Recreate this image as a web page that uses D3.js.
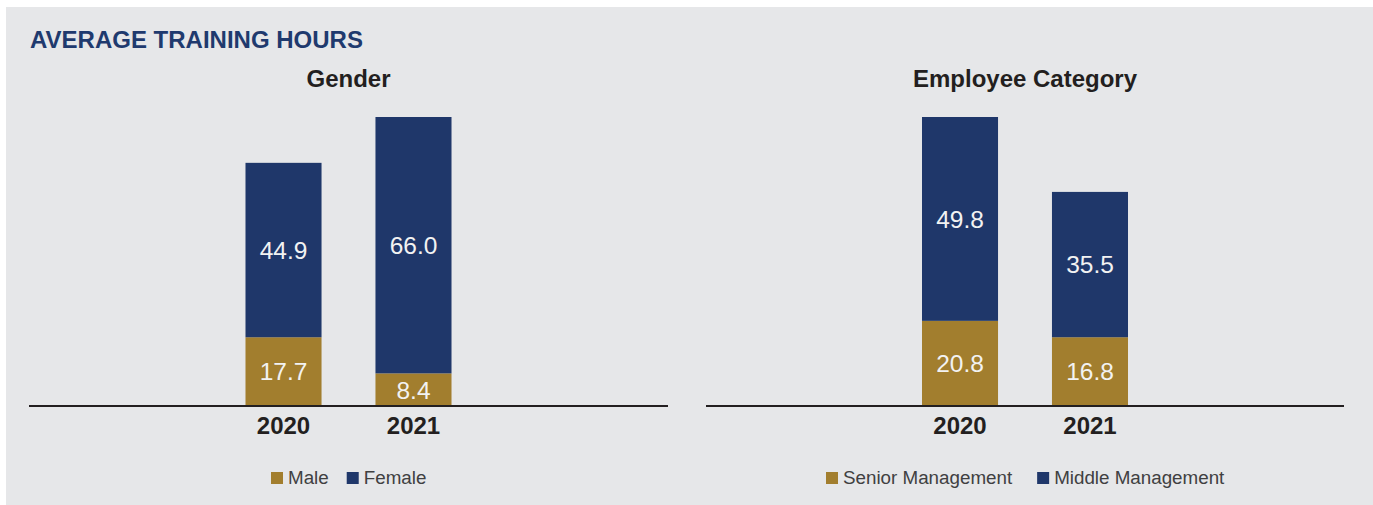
<!DOCTYPE html>
<html>
<head>
<meta charset="utf-8">
<script src="https://cdn.jsdelivr.net/npm/d3@7"></script>
<style>
  body { margin: 0; background: #fff; }
  text { font-family: "Liberation Sans", Arial, sans-serif; }
</style>
</head>
<body>
<div id="chart"></div>
<script>
var years = ["2020", "2021"];

// left panel: gender
var genderTitle = "Gender",
    genderKeys = ["Male", "Female"],
    male = [17.7, 8.4],
    female = [44.9, 66.0];

// right panel: employee category
var categoryTitle = "Employee Category",
    categoryKeys = ["Senior Management", "Middle Management"],
    senior = [20.8, 16.8],
    middle = [49.8, 35.5];

var colors = ["#a27e2e", "#1f376a"];

var svg = d3.select("#chart").append("svg")
    .attr("width", 1373)
    .attr("height", 505);

svg.append("rect")
    .attr("x", 6).attr("y", 7)
    .attr("width", 1367).attr("height", 498)
    .attr("fill", "#e6e7e9");

svg.append("text")
    .attr("x", 30).attr("y", 48)
    .attr("fill", "#1f3a6e")
    .attr("font-size", 24)
    .attr("font-weight", "bold")
    .text("AVERAGE TRAINING HOURS");

var barTop = 117, base = 406;

function drawPanel(x0, x1, title, keys, lower, upper, legendX, legendGap) {
    var g = svg.append("g");
    var cx = (x0 + x1) / 2;

    var rows = years.map(function (yr, i) {
        var r = { year: yr };
        r[keys[0]] = lower[i];
        r[keys[1]] = upper[i];
        return r;
    });

    var stack = d3.stack().keys(keys)(rows);
    var maxTotal = d3.max(rows, function (d) { return d[keys[0]] + d[keys[1]]; });

    var x = d3.scaleBand()
        .domain(years)
        .range([cx - 130, cx + 130])
        .paddingInner(0.415)
        .paddingOuter(0.2077);

    var y = d3.scaleLinear()
        .domain([0, maxTotal])
        .range([base, barTop]);

    g.append("text")
        .attr("x", cx).attr("y", 87)
        .attr("text-anchor", "middle")
        .attr("font-size", 24)
        .attr("font-weight", "bold")
        .attr("fill", "#231f20")
        .text(title);

    var layer = g.selectAll("g.layer")
        .data(stack)
        .enter().append("g")
        .attr("class", "layer")
        .attr("fill", function (d, i) { return colors[i]; });

    layer.selectAll("rect")
        .data(function (d) { return d; })
        .enter().append("rect")
        .attr("x", function (d) { return x(d.data.year); })
        .attr("y", function (d) { return y(d[1]); })
        .attr("width", x.bandwidth())
        .attr("height", function (d) { return y(d[0]) - y(d[1]); });

    layer.selectAll("text")
        .data(function (d) { return d; })
        .enter().append("text")
        .attr("x", function (d) { return x(d.data.year) + x.bandwidth() / 2; })
        .attr("y", function (d) { return (y(d[0]) + y(d[1])) / 2; })
        .attr("dy", "0.36em")
        .attr("text-anchor", "middle")
        .attr("font-size", 24.5)
        .attr("fill", "#f2f2f2")
        .text(function (d) { return (d[1] - d[0]).toFixed(1); });

    g.append("line")
        .attr("x1", x0).attr("x2", x1)
        .attr("y1", base).attr("y2", base)
        .attr("stroke", "#231f20")
        .attr("stroke-width", 2.2);

    g.selectAll("text.year")
        .data(years)
        .enter().append("text")
        .attr("class", "year")
        .attr("x", function (d) { return x(d) + x.bandwidth() / 2; })
        .attr("y", 434)
        .attr("text-anchor", "middle")
        .attr("font-size", 24)
        .attr("font-weight", "bold")
        .attr("fill", "#231f20")
        .text(function (d) { return d; });

    // legend
    var lg = g.append("g");
    var lx = legendX;
    keys.forEach(function (k, i) {
        lg.append("rect")
            .attr("x", lx).attr("y", 472)
            .attr("width", 12).attr("height", 12)
            .attr("fill", colors[i]);
        var t = lg.append("text")
            .attr("x", lx + 17).attr("y", 484)
            .attr("font-size", 18.8)
            .attr("fill", "#404041")
            .text(k);
        lx += 17 + t.node().getComputedTextLength() + legendGap;
    });
}

drawPanel(29, 668, genderTitle, genderKeys, male, female, 271, 18);
drawPanel(706, 1344, categoryTitle, categoryKeys, senior, middle, 826, 25);
</script>
</body>
</html>
